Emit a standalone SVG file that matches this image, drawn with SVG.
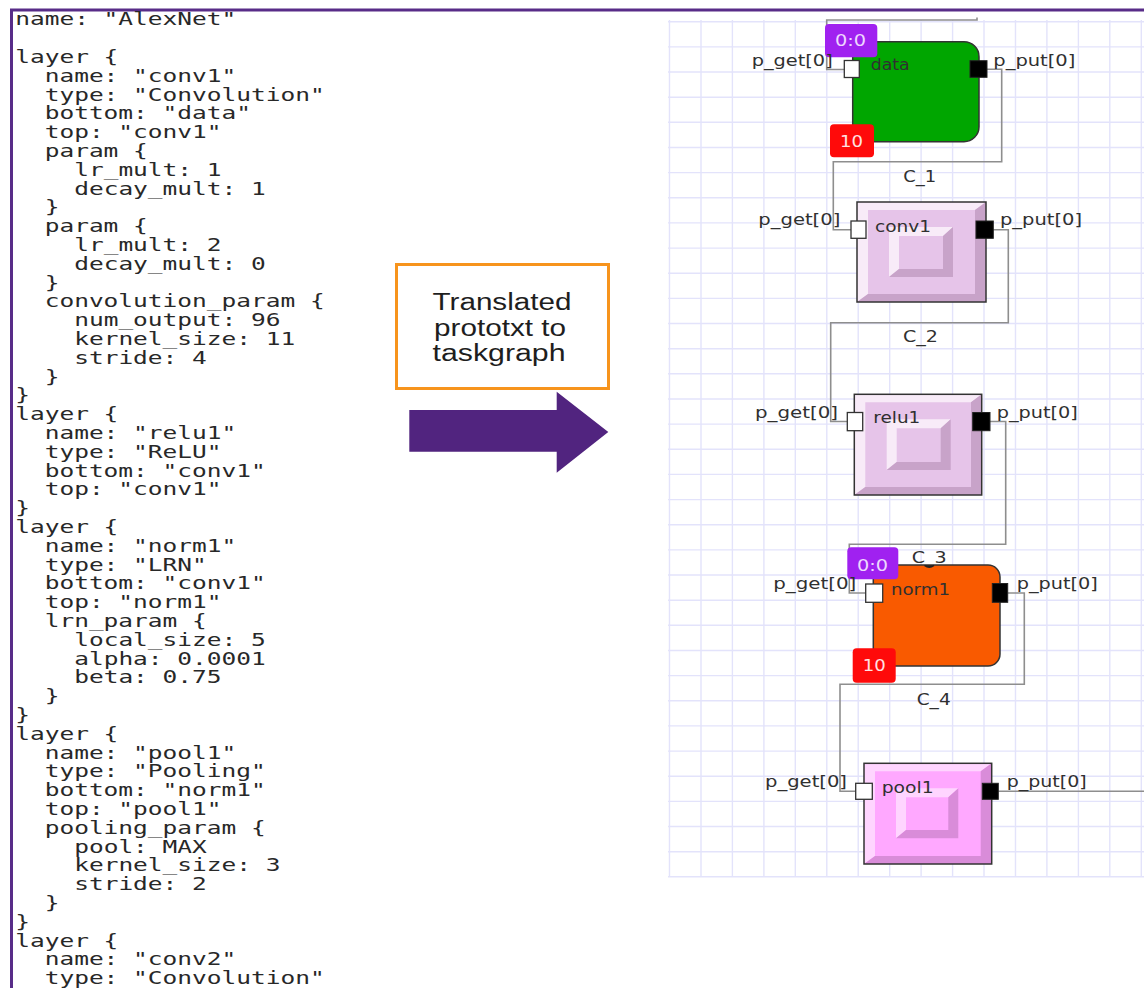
<svg xmlns="http://www.w3.org/2000/svg" width="1144" height="988" viewBox="0 0 1144 988">
  <style>
    .code { font-family: "DejaVu Sans Mono", "Liberation Mono", monospace; font-size: 18.5px; fill: #282828; }
    .i1 { }
    .lbl { font-family: "DejaVu Sans", "Liberation Sans", sans-serif; font-size: 16px; fill: #303030; }
    .badge-txt { font-family: "DejaVu Sans", "Liberation Sans", sans-serif; font-size: 16px; }
    .note { font-family: "Liberation Sans", Arial, sans-serif; font-size: 23px; fill: #1e1e1e; text-anchor: middle; }
    .grid { stroke: #e3e3fb; stroke-width: 1.4; fill: none; }
    .wire { stroke: #8e8e8e; stroke-width: 1.6; fill: none; }
    .edge { stroke: #333333; stroke-width: 1.5; }
    .port-in { fill: #ffffff; stroke: #333333; stroke-width: 1.3; }
    .port-out { fill: #000000; stroke: #222222; stroke-width: 1; }
    .b-pur { fill: #a021f0; }
    .b-red { fill: #ff0a0a; }
  </style>

  <!-- frame -->
  <path d="M11.5,988 V10 H1144" fill="none" stroke="#582c88" stroke-width="3"/>

  <!-- prototxt listing: one text per line, indents are 2 and 4 monospace cells -->
  <g id="prototxt" class="code" transform="matrix(1.324,0,0,1,15.2,0)">
    <text x="0" y="25.5">name: "AlexNet"</text>
    <text x="0" y="63.1">layer {</text>
    <text x="22.27" y="81.9">name: "conv1"</text>
    <text x="22.27" y="100.7">type: "Convolution"</text>
    <text x="22.27" y="119.5">bottom: "data"</text>
    <text x="22.27" y="138.3">top: "conv1"</text>
    <text x="22.27" y="157.1">param {</text>
    <text x="44.55" y="175.9">lr_mult: 1</text>
    <text x="44.55" y="194.7">decay_mult: 1</text>
    <text x="22.27" y="213.5">}</text>
    <text x="22.27" y="232.3">param {</text>
    <text x="44.55" y="251.1">lr_mult: 2</text>
    <text x="44.55" y="269.9">decay_mult: 0</text>
    <text x="22.27" y="288.7">}</text>
    <text x="22.27" y="307.5">convolution_param {</text>
    <text x="44.55" y="326.3">num_output: 96</text>
    <text x="44.55" y="345.1">kernel_size: 11</text>
    <text x="44.55" y="363.9">stride: 4</text>
    <text x="22.27" y="382.7">}</text>
    <text x="0" y="401.5">}</text>
    <text x="0" y="420.3">layer {</text>
    <text x="22.27" y="439.1">name: "relu1"</text>
    <text x="22.27" y="457.9">type: "ReLU"</text>
    <text x="22.27" y="476.7">bottom: "conv1"</text>
    <text x="22.27" y="495.5">top: "conv1"</text>
    <text x="0" y="514.3">}</text>
    <text x="0" y="533.1">layer {</text>
    <text x="22.27" y="551.9">name: "norm1"</text>
    <text x="22.27" y="570.7">type: "LRN"</text>
    <text x="22.27" y="589.5">bottom: "conv1"</text>
    <text x="22.27" y="608.3">top: "norm1"</text>
    <text x="22.27" y="627.1">lrn_param {</text>
    <text x="44.55" y="645.9">local_size: 5</text>
    <text x="44.55" y="664.7">alpha: 0.0001</text>
    <text x="44.55" y="683.5">beta: 0.75</text>
    <text x="22.27" y="702.3">}</text>
    <text x="0" y="721.1">}</text>
    <text x="0" y="739.9">layer {</text>
    <text x="22.27" y="758.7">name: "pool1"</text>
    <text x="22.27" y="777.5">type: "Pooling"</text>
    <text x="22.27" y="796.3">bottom: "norm1"</text>
    <text x="22.27" y="815.1">top: "pool1"</text>
    <text x="22.27" y="833.9">pooling_param {</text>
    <text x="44.55" y="852.7">pool: MAX</text>
    <text x="44.55" y="871.5">kernel_size: 3</text>
    <text x="44.55" y="890.3">stride: 2</text>
    <text x="22.27" y="909.1">}</text>
    <text x="0" y="927.9">}</text>
    <text x="0" y="946.7">layer {</text>
    <text x="22.27" y="965.5">name: "conv2"</text>
    <text x="22.27" y="984.3">type: "Convolution"</text>
  </g>

  <!-- translation note and arrow -->
  <g id="note">
    <rect x="396.5" y="264.5" width="212" height="124" fill="#ffffff" stroke="#f7941d" stroke-width="3"/>
    <text class="note" x="502" y="310" textLength="139" lengthAdjust="spacingAndGlyphs">Translated</text>
    <text class="note" x="500" y="336" textLength="132" lengthAdjust="spacingAndGlyphs">prototxt to</text>
    <text class="note" x="499" y="361" textLength="133" lengthAdjust="spacingAndGlyphs">taskgraph</text>
  </g>
  <g id="arrow">
    <polygon points="409.3,410 556.7,410 556.7,391.7 608.3,432 556.7,472.7 556.7,451.7 409.3,451.7" fill="#51247f"/>
  </g>

  <!-- canvas grid -->
  <g id="grid">
    <rect x="668" y="20" width="476" height="857" fill="#ffffff"/>
    <path class="grid" d="M669.5,20V877 M701,20V877 M732.4,20V877 M763.9,20V877 M795.3,20V877 M826.8,20V877 M858.2,20V877 M889.7,20V877 M921.1,20V877 M952.6,20V877 M984,20V877 M1015.5,20V877 M1046.9,20V877 M1078.4,20V877 M1109.8,20V877 M1141.3,20V877
      M668,21.7H1144 M668,46.9H1144 M668,72H1144 M668,97.2H1144 M668,122.3H1144 M668,147.5H1144 M668,172.6H1144 M668,197.8H1144 M668,222.9H1144 M668,248.1H1144 M668,273.2H1144 M668,298.4H1144 M668,323.5H1144 M668,348.7H1144 M668,373.8H1144 M668,399H1144 M668,424.1H1144 M668,449.3H1144 M668,474.4H1144 M668,499.6H1144 M668,524.7H1144 M668,549.9H1144 M668,575H1144 M668,600.2H1144 M668,625.3H1144 M668,650.5H1144 M668,675.6H1144 M668,700.8H1144 M668,725.9H1144 M668,751.1H1144 M668,776.2H1144 M668,801.4H1144 M668,826.5H1144 M668,851.7H1144 M668,876.8H1144"/>
  </g>

  <!-- channels -->
  <g id="connectors">
    <path class="wire" d="M844,69.5 H826.7 V20 H977 V17.5"/>
    <path class="wire" d="M987,69.3 H1001.7 V161.7 H833.3 V229.7 H851"/>
    <path class="wire" d="M993,229.7 H1008.3 V322.7 H830.7 V421.5 H847.3"/>
    <path class="wire" d="M990,421.5 H1005.7 V544.3 H849.3 V593 H866"/>
    <path class="wire" d="M1007.7,593 H1024.3 V684.3 H840 V791.3 H855.7"/>
    <path class="wire" d="M998.3,791.3 H1144"/>
    <text class="lbl" x="903.3" y="181.5" textLength="33" lengthAdjust="spacingAndGlyphs">C_1</text>
    <text class="lbl" x="903" y="341.7" textLength="35" lengthAdjust="spacingAndGlyphs">C_2</text>
    <text class="lbl" x="911.7" y="562.7" textLength="35" lengthAdjust="spacingAndGlyphs">C_3</text>
    <text class="lbl" x="916.7" y="705" textLength="34" lengthAdjust="spacingAndGlyphs">C_4</text>
  </g>

  <!-- source task -->
  <g id="node-data">
    <rect x="852.7" y="41.7" width="126.3" height="100" rx="15" ry="15" fill="#00a600" class="edge"/>
    <rect x="825" y="24" width="52.3" height="33.3" rx="4" class="b-pur"/>
    <text class="badge-txt" x="835" y="46" textLength="31" lengthAdjust="spacingAndGlyphs" fill="#eed8ff">0:0</text>
    <rect x="830" y="124.3" width="44" height="33" rx="4" class="b-red"/>
    <text class="badge-txt" x="840" y="147" textLength="23" lengthAdjust="spacingAndGlyphs" fill="#ffe2e2">10</text>
    <rect x="844.3" y="60.5" width="15" height="17" class="port-in"/>
    <rect x="970" y="60.7" width="17" height="16.6" class="port-out"/>
    <text class="lbl" x="870.7" y="70" textLength="39" lengthAdjust="spacingAndGlyphs">data</text>
    <text class="lbl" x="751.7" y="66" textLength="81" lengthAdjust="spacingAndGlyphs">p_get[0]</text>
    <text class="lbl" x="993.3" y="66" textLength="82" lengthAdjust="spacingAndGlyphs">p_put[0]</text>
  </g>

  <g id="node-conv1">
    <rect x="857" y="202" width="129" height="100" fill="#e6c4e9"/>
    <polygon points="857,202 986,202 975,210 868,210 868,294 857,302" fill="#f8ebf8"/>
    <polygon points="986,202 986,302 857,302 868,294 975,294 975,210" fill="#c8a3c9"/>
    <polygon points="889,227 953,227 943,236 899,236 899,269 889,277" fill="#f8ebf8"/>
    <polygon points="953,227 953,277 889,277 899,269 943,269 943,236" fill="#c8a3c9"/>
    <rect x="857" y="202" width="129" height="100" fill="none" class="edge"/>
    <rect x="851" y="221" width="15" height="17.3" class="port-in"/>
    <rect x="976" y="221" width="17.3" height="17.3" class="port-out"/>
    <text class="lbl" x="875" y="231.7" textLength="56" lengthAdjust="spacingAndGlyphs">conv1</text>
    <text class="lbl" x="758.3" y="225" textLength="82" lengthAdjust="spacingAndGlyphs">p_get[0]</text>
    <text class="lbl" x="1000" y="225" textLength="82" lengthAdjust="spacingAndGlyphs">p_put[0]</text>
  </g>

  <g id="node-relu1">
    <rect x="854.3" y="394.3" width="127.4" height="100.7" fill="#e6c4e9"/>
    <polygon points="854.3,394.3 981.7,394.3 971,402.3 865.3,402.3 865.3,487 854.3,495" fill="#f8ebf8"/>
    <polygon points="981.7,394.3 981.7,495 854.3,495 865.3,487 971,487 971,402.3" fill="#c8a3c9"/>
    <polygon points="886.7,419.3 950.7,419.3 940.7,428.3 896.7,428.3 896.7,462 886.7,470" fill="#f8ebf8"/>
    <polygon points="950.7,419.3 950.7,470 886.7,470 896.7,462 940.7,462 940.7,428.3" fill="#c8a3c9"/>
    <rect x="854.3" y="394.3" width="127.4" height="100.7" fill="none" class="edge"/>
    <rect x="847.3" y="412.5" width="15.4" height="18.2" class="port-in"/>
    <rect x="972.7" y="412.5" width="17.3" height="18.2" class="port-out"/>
    <text class="lbl" x="873.3" y="423.3" textLength="47" lengthAdjust="spacingAndGlyphs">relu1</text>
    <text class="lbl" x="755" y="417.5" textLength="83" lengthAdjust="spacingAndGlyphs">p_get[0]</text>
    <text class="lbl" x="996.7" y="417.5" textLength="81" lengthAdjust="spacingAndGlyphs">p_put[0]</text>
  </g>

  <g id="node-norm1">
    <rect x="873.3" y="565" width="126.7" height="101" rx="12" ry="12" fill="#f95a00" class="edge"/>
    <path d="M924.5,565.3 Q929.3,569 934,565.3" fill="#222222" stroke="#222222" stroke-width="1.5"/>
    <rect x="847.3" y="547.3" width="51" height="32" rx="4" class="b-pur"/>
    <text class="badge-txt" x="857" y="570.7" textLength="31" lengthAdjust="spacingAndGlyphs" fill="#eed8ff">0:0</text>
    <rect x="852.7" y="648.3" width="43" height="34.4" rx="4" class="b-red"/>
    <text class="badge-txt" x="862.7" y="670.5" textLength="23" lengthAdjust="spacingAndGlyphs" fill="#ffe2e2">10</text>
    <rect x="865.7" y="584" width="17" height="18.3" class="port-in"/>
    <rect x="992.3" y="583.5" width="15.4" height="18.8" class="port-out"/>
    <text class="lbl" x="891" y="595" textLength="59" lengthAdjust="spacingAndGlyphs">norm1</text>
    <text class="lbl" x="773.3" y="589" textLength="83" lengthAdjust="spacingAndGlyphs">p_get[0]</text>
    <text class="lbl" x="1016.7" y="588.5" textLength="81" lengthAdjust="spacingAndGlyphs">p_put[0]</text>
  </g>

  <g id="node-pool1">
    <rect x="864" y="763.3" width="127.7" height="100.7" fill="#ffa8ff"/>
    <polygon points="864,763.3 991.7,763.3 980.7,771.3 875,771.3 875,856 864,864" fill="#ffd5ff"/>
    <polygon points="991.7,763.3 991.7,864 864,864 875,856 980.7,856 980.7,771.3" fill="#d98cd9"/>
    <polygon points="896,788.3 958.3,788.3 948.3,797.3 906,797.3 906,830 896,838.3" fill="#ffd5ff"/>
    <polygon points="958.3,788.3 958.3,838.3 896,838.3 906,830 948.3,830 948.3,797.3" fill="#d98cd9"/>
    <rect x="864" y="763.3" width="127.7" height="100.7" fill="none" class="edge"/>
    <rect x="855.7" y="783.3" width="16.6" height="16" class="port-in"/>
    <rect x="982.3" y="783.3" width="16" height="16" class="port-out"/>
    <text class="lbl" x="881.7" y="793" textLength="52" lengthAdjust="spacingAndGlyphs">pool1</text>
    <text class="lbl" x="765" y="787.3" textLength="82" lengthAdjust="spacingAndGlyphs">p_get[0]</text>
    <text class="lbl" x="1006.7" y="787.3" textLength="80" lengthAdjust="spacingAndGlyphs">p_put[0]</text>
  </g>
</svg>
